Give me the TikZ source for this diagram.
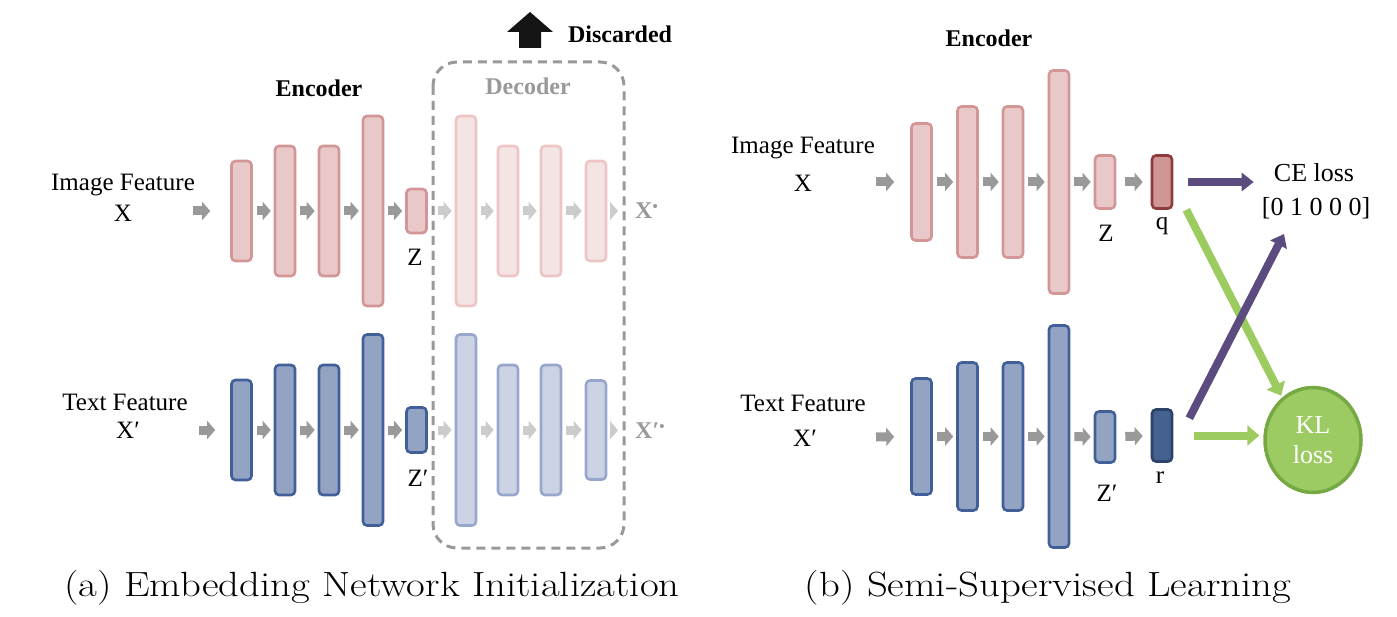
\documentclass[tikz,border=0pt]{standalone}
\usepackage{graphicx}
\usepackage{fontspec}
\newfontfamily\tms{Liberation Serif}
\usetikzlibrary{shapes.geometric, arrows.meta, calc, positioning}

\definecolor{pinkfill}{HTML}{E8C8C8}
\definecolor{pinkline}{HTML}{D39595}
\definecolor{bluefill}{HTML}{93A4C3}
\definecolor{blueline}{HTML}{41609A}
\definecolor{dpinkfill}{HTML}{F5E4E4}
\definecolor{dpinkline}{HTML}{EDC5C5}
\definecolor{dbluefill}{HTML}{CBD2E3}
\definecolor{dblueline}{HTML}{97A7CB}
\definecolor{qfill}{HTML}{D09696}
\definecolor{qline}{HTML}{8E3B3B}
\definecolor{rfill}{HTML}{44618F}
\definecolor{rline}{HTML}{2D4268}
\definecolor{flowgray}{HTML}{999999}
\definecolor{dflowgray}{HTML}{CCCCCC}
\definecolor{purp}{HTML}{5B4B7F}
\definecolor{grn}{HTML}{9CCC60}
\definecolor{klfill}{HTML}{9DCB63}
\definecolor{klline}{HTML}{76A843}

\tikzset{
  layer/.style = {draw, rounded corners=4pt, line width=2.6pt, minimum width=20pt, inner sep=0pt},
  encimg/.style = {layer, draw=pinkline, fill=pinkfill},
  enctxt/.style = {layer, draw=blueline, fill=bluefill},
  decimg/.style = {layer, draw=dpinkline, fill=dpinkfill},
  dectxt/.style = {layer, draw=dblueline, fill=dbluefill},
  flow/.style = {draw=flowgray, line width=9pt, -{Triangle[width=18pt,length=8pt]},
                 shorten <=4pt, shorten >=3pt},
  dflow/.style = {flow, draw=dflowgray},
  purparr/.style = {draw=purp, line width=8pt, -{Triangle[width=18pt,length=12pt]}},
  grnarr/.style = {draw=grn, line width=8pt, -{Triangle[width=20pt,length=12pt]}},
  lbl/.style = {font=\tms\fontsize{25}{28}\selectfont, inner sep=0pt},
  head/.style = {font=\tms\bfseries\fontsize{24}{28}\selectfont, inner sep=0pt},
  outlbl/.style = {font=\tms\bfseries\fontsize{24}{28}\selectfont, text=flowgray, inner sep=0pt},
  captxt/.style = {font=\fontsize{35}{40}\selectfont, inner sep=0pt}
}
\newcommand{\wide}[1]{\scalebox{1.165}[1]{#1}}
\newcommand{\recdot}{\raisebox{7pt}{\fontsize{15}{15}\selectfont•}}

\begin{document}
\begin{tikzpicture}[x=1pt, y=-1pt]
  \useasboundingbox (0,0) rectangle (1397,617);

  % (a) embedding network initialization
  \node[head] (encA) at (319,88) {Encoder};
  \node[head, text=flowgray] (decA) at (528,86) {Decoder};
  \node[head] (disc) at (620,34) {Discarded};
  \fill[black!92] (530,12) -- (553,32) -- (541,32) -- (541,48) -- (519,48) -- (519,32) -- (507,32) -- cycle;
  \draw[flowgray, line width=3pt, dash pattern=on 9pt off 6pt, rounded corners=24pt]
    (433,62) rectangle (624,548);

  \node[lbl] (imgA) at (123,185) {Image Feature};
  \node[lbl] (xA) at (123,213) {X};
  \node[encimg, minimum height=100] (a1) at (241.5,211) {};
  \node[encimg, minimum height=130] (a2) at (285,211) {};
  \node[encimg, minimum height=130] (a3) at (329,211) {};
  \node[encimg, minimum height=190] (a4) at (373,211) {};
  \node[encimg, minimum height=44] (az) at (416.5,211) {};
  \node[lbl] (azl) at (415,257) {Z};
  \node[decimg, minimum height=190] (ad1) at (466,211) {};
  \node[decimg, minimum height=130] (ad2) at (508,211) {};
  \node[decimg, minimum height=130] (ad3) at (551,211) {};
  \node[decimg, minimum height=100] (ad4) at (596,211) {};
  \node[outlbl, anchor=west] (axo) at (635,211) {X\recdot};

  \coordinate (ain) at (193,211);
  \draw[flow, shorten <=0pt, shorten >=20pt] (ain) -- (a1);
  \foreach \s/\t in {a1/a2, a2/a3, a3/a4, a4/az}
    \draw[flow] (\s) -- (\t);
  \draw[dflow, shorten <=10pt] (az) -- (ad1);
  \foreach \s/\t in {ad1/ad2, ad2/ad3, ad3/ad4}
    \draw[dflow] (\s) -- (\t);
  \draw[dflow, shorten <=3pt, shorten >=17pt] (ad4) -- (axo);

  \node[lbl] (txtA) at (125,402) {Text Feature};
  \node[lbl] (xpA) at (128,430) {X′};
  \node[enctxt, minimum height=100] (b1) at (241.5,430) {};
  \node[enctxt, minimum height=130] (b2) at (285,430) {};
  \node[enctxt, minimum height=130] (b3) at (329,430) {};
  \node[enctxt, minimum height=191] (b4) at (373,430) {};
  \node[enctxt, minimum height=45] (bz) at (416.5,430) {};
  \node[lbl] (bzl) at (418,478) {Z′};
  \node[dectxt, minimum height=191] (bd1) at (466,430) {};
  \node[dectxt, minimum height=130] (bd2) at (508,430) {};
  \node[dectxt, minimum height=130] (bd3) at (551,430) {};
  \node[dectxt, minimum height=99] (bd4) at (596,430) {};
  \node[outlbl, anchor=west] (bxo) at (635,431) {X′\recdot};

  \coordinate (bin) at (199,430);
  \draw[flow, shorten <=0pt, shorten >=15pt] (bin) -- (b1);
  \foreach \s/\t in {b1/b2, b2/b3, b3/b4, b4/bz}
    \draw[flow] (\s) -- (\t);
  \draw[dflow, shorten <=10pt] (bz) -- (bd1);
  \foreach \s/\t in {bd1/bd2, bd2/bd3, bd3/bd4}
    \draw[dflow] (\s) -- (\t);
  \draw[dflow, shorten <=3pt, shorten >=17pt] (bd4) -- (bxo);

  % (b) semi-supervised learning
  \node[head] (encB) at (989,38) {Encoder};

  \node[lbl] (imgB) at (803,148) {Image Feature};
  \node[lbl] (xB) at (803,183) {X};
  \node[encimg, minimum height=117] (c1) at (921.5,182) {};
  \node[encimg, minimum height=151] (c2) at (967.5,182) {};
  \node[encimg, minimum height=151] (c3) at (1013,182) {};
  \node[encimg, minimum height=223] (c4) at (1059,182) {};
  \node[encimg, minimum height=53] (cz) at (1105,182) {};
  \node[layer, draw=qline, fill=qfill, minimum height=53] (q) at (1162,182) {};
  \node[lbl] (czl) at (1106,233) {Z};
  \node[lbl] (ql) at (1162,226) {q};

  \coordinate (cin) at (876,182);
  \draw[flow, shorten <=0pt, shorten >=16pt] (cin) -- (c1);
  \foreach \s/\t in {c1/c2, c2/c3, c3/c4, c4/cz}
    \draw[flow] (\s) -- (\t);
  \draw[flow, shorten <=9pt, shorten >=8pt] (cz) -- (q);

  \node[lbl] (txtB) at (803,403) {Text Feature};
  \node[lbl] (xpB) at (805,438) {X′};
  \node[enctxt, minimum height=116] (d1) at (921.5,436.5) {};
  \node[enctxt, minimum height=148] (d2) at (967.5,436.5) {};
  \node[enctxt, minimum height=148] (d3) at (1013,436.5) {};
  \node[enctxt, minimum height=222] (d4) at (1059,436.5) {};
  \node[enctxt, minimum height=51] (dz) at (1105,437) {};
  \node[layer, draw=rline, fill=rfill, minimum height=52] (r) at (1162,435.5) {};
  \node[lbl] (dzl) at (1107,493) {Z′};
  \node[lbl] (rl) at (1160,478) {r};

  \coordinate (din) at (876,437);
  \draw[flow, shorten <=0pt, shorten >=16pt] (din) -- (d1);
  \foreach \s/\t in {d1/d2, d2/d3, d3/d4, d4/dz}
    \draw[flow] (\s) -- (\t);
  \draw[flow, shorten <=9pt, shorten >=8pt] (dz) -- (r);

  % losses
  \node[lbl, font=\tms\fontsize{26}{28}\selectfont] (ce) at (1314,173) {CE loss};
  \node[lbl, font=\tms\fontsize{26}{28}\selectfont] (cevec) at (1316,208) {[0 1 0 0 0]};
  \node[ellipse, draw=klline, fill=klfill, line width=3.5pt, minimum width=96pt,
        minimum height=105pt, inner sep=0pt, text=white, align=center,
        font=\tms\fontsize{26}{30}\selectfont] (kl) at (1313,440) {KL\\loss};
  \coordinate (cein) at (1284,234);
  \coordinate (qout) at ([xshift=15pt]q.east);
  \coordinate (rout) at ([xshift=21pt]r.east);

  \draw[purparr, shorten >=20pt] (qout) -- (qout -| ce.west);
  \draw[grnarr, shorten >=2pt] ([shift={(13,0)}]q.south east) -- (kl.126);
  \draw[purparr] ([shift={(16,10)}]r.north east) -- (cein);
  \draw[grnarr, shorten >=4pt] (rout) -- (rout -| kl.west);

  % captions
  \node[captxt] (capA) at (372,588) {\wide{(a) Embedding Network Initialization}};
  \node[captxt] (capB) at (1048,588) {\wide{(b) Semi-Supervised Learning}};
\end{tikzpicture}
\end{document}
